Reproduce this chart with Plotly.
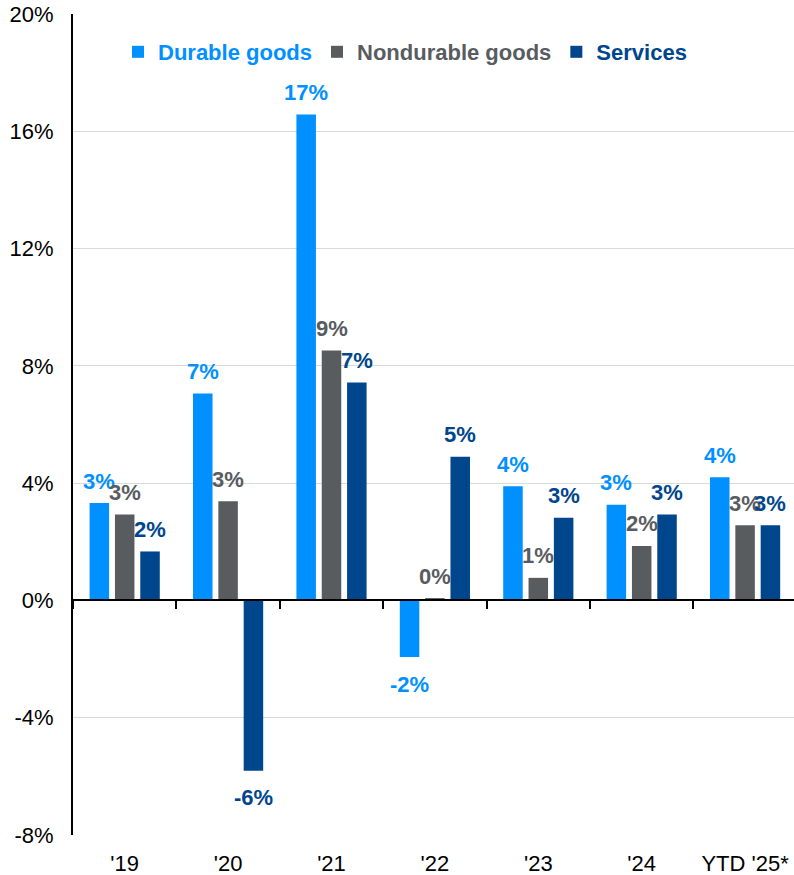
import plotly.graph_objects as go

# ---- data ----
categories = ["'19", "'20", "'21", "'22", "'23", "'24", "YTD '25*"]
durable = [3.32, 7.06, 16.57, -1.93, 3.89, 3.26, 4.20]
nondurable = [2.93, 3.38, 8.52, 0.08, 0.77, 1.86, 2.56]
services = [1.67, -5.81, 7.43, 4.90, 2.82, 2.93, 2.56]
series_names = ["Durable goods", "Nondurable goods", "Services"]
colors = ["#0090FF", "#595C5F", "#00468C"]
y_ticks = [-8, -4, 0, 4, 8, 12, 16, 20]
y_tick_labels = ["-8%", "-4%", "0%", "4%", "8%", "12%", "16%", "20%"]

# ---- layout constants ----
W, H = 794, 875
ML, MR, MT, MB = 73, 0, 14, 40
x_range = [-0.5, 6.473]
y_range = [-8, 20]
bargap = 0.265
bargroupgap = 0.23
FONT = "Liberation Sans, Arial, sans-serif"

fig = go.Figure()
all_series = [durable, nondurable, services]
for name, vals, col in zip(series_names, all_series, colors):
    fig.add_trace(go.Bar(
        x=categories, y=vals,
        name=f"<b><span style='color:{col}'>{name}</span></b>",
        marker=dict(color=col, line=dict(width=0)),
        hoverinfo="x+y",
    ))

# invisible trace to anchor the zero-line axis (ticks at category boundaries)
fig.add_trace(go.Scatter(
    x=categories, y=[0] * len(categories), xaxis="x2", mode="markers",
    marker=dict(opacity=0), showlegend=False, hoverinfo="skip",
))

# data labels
plot_w = W - ML - MR
cw = plot_w / (x_range[1] - x_range[0])
slot = cw * (1 - bargap) / 3
for i, (vals, col) in enumerate(zip(all_series, colors)):
    for cat, v in zip(categories, vals):
        r = int(round(v))
        fig.add_annotation(
            x=cat, y=v, text=f"<b>{r}%</b>", showarrow=False,
            font=dict(color=col, size=22, family=FONT),
            xshift=(i - 1) * slot, yshift=22 if v >= 0 else -27,
            yanchor="middle", xanchor="center",
        )

zero_pos = (0 - y_range[0]) / (y_range[1] - y_range[0])

fig.update_layout(
    width=W, height=H,
    margin=dict(l=ML, r=MR, t=MT, b=MB, pad=0),
    paper_bgcolor="white", plot_bgcolor="white",
    font=dict(family=FONT, size=22, color="#000000"),
    barmode="group", bargap=bargap, bargroupgap=bargroupgap,
    showlegend=True,
    legend=dict(
        orientation="h", x=(118 - ML) / plot_w, xanchor="left",
        y=1 - (52 - MT) / (H - MT - MB), yanchor="middle",
        font=dict(size=22, family=FONT), bgcolor="rgba(0,0,0,0)",
        itemclick=False, itemdoubleclick=False,
    ),
    xaxis=dict(
        type="category", categoryorder="array", categoryarray=categories,
        range=x_range, showline=False, showgrid=False, zeroline=False,
        ticks="", tickfont=dict(size=22, color="#000000"),
        ticklabelstandoff=13,
    ),
    xaxis2=dict(
        type="category", categoryorder="array", categoryarray=categories,
        range=x_range, overlaying="x", anchor="free", position=zero_pos,
        showline=True, linecolor="#000000", linewidth=2,
        ticks="outside", tickson="boundaries", ticklen=8, tickwidth=2,
        tickcolor="#000000", showticklabels=False, showgrid=False,
        zeroline=False,
    ),
    yaxis=dict(
        range=y_range, tickvals=y_ticks, ticktext=y_tick_labels,
        showgrid=True, gridcolor="#D9D9D9", gridwidth=1,
        showline=True, linecolor="#000000", linewidth=2,
        zeroline=False, ticks="", tickfont=dict(size=22, color="#000000"),
        ticklabelstandoff=13,
    ),
)

fig.write_html(
    "out.html",
    config={"displayModeBar": False},
    post_script="document.body.style.margin='0';document.body.style.overflow='hidden';",
)
